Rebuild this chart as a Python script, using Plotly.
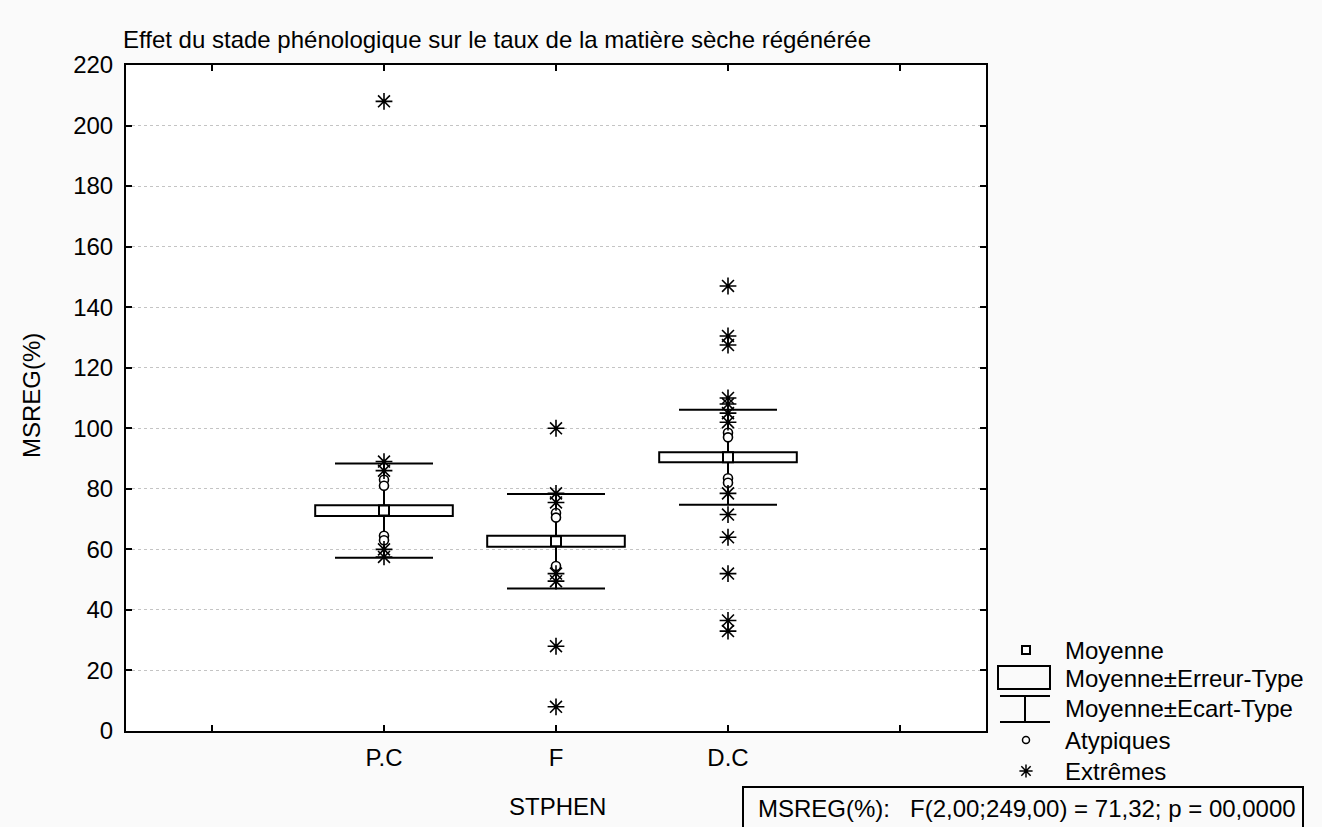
import plotly.graph_objects as go

# Figure geometry (pixels)
W, H = 1322, 827
M_L, M_R, M_T, M_B = 126, 0, 65, 0
PLOT_RIGHT = 986
PLOT_BOTTOM = 731
PAPER_W = W - M_L - M_R
PAPER_H = H - M_T - M_B

FONT = "Liberation Sans, Arial, sans-serif"
FS = 24

# Data: phenological stage groups
categories = ["P.C", "F", "D.C"]
cat_pos = [1, 2, 3]
means = [72.8, 62.7, 90.4]
std_err = [1.8, 1.8, 1.65]
std_dev = [15.6, 15.6, 15.7]

# Atypical values (outliers) per group
outliers_pc = [83.0, 81.0, 64.5, 63.0]
outliers_f = [72.0, 70.5, 54.5]
outliers_dc = [98.5, 97.0, 83.5, 82.0]

# Extreme values per group
extremes_pc = [208.0, 89.0, 86.0, 60.0, 57.5]
extremes_f = [100.0, 78.5, 75.5, 52.0, 49.5, 28.0, 8.0]
extremes_dc = [147.0, 130.5, 127.5, 110.0, 108.0, 105.0, 102.0,
               78.5, 71.5, 64.0, 52.0, 36.5, 33.0]

y_ticks = list(range(0, 221, 20))
x_tickvals = [0, 1, 2, 3, 4]
x_ticktext = ["", "P.C", "F", "D.C", ""]

legend_labels = ["Moyenne", "Moyenne±Erreur-Type", "Moyenne±Ecart-Type",
                 "Atypiques", "Extrêmes"]
stats_text = "MSREG(%):   F(2,00;249,00) = 71,32; p = 00,0000"


def px_x(px):
    return (px - M_L) / PAPER_W


def px_y(py):
    return (H - M_B - py) / PAPER_H


def spread(groups):
    xs, ys = [], []
    for pos, vals in zip(cat_pos, groups):
        xs += [pos] * len(vals)
        ys += vals
    return xs, ys


fig = go.Figure()

# Mean ± standard error boxes
fig.add_trace(go.Bar(
    x=cat_pos,
    base=[m - s for m, s in zip(means, std_err)],
    y=[2 * s for s in std_err],
    width=0.8,
    marker=dict(color="white", line=dict(color="black", width=2)),
    hoverinfo="skip",
))

# Mean ± standard deviation whiskers with the mean marker
fig.add_trace(go.Scatter(
    x=cat_pos, y=means, mode="markers",
    marker=dict(symbol="square", size=10, color="white",
                line=dict(color="black", width=2)),
    error_y=dict(type="data", array=std_dev, symmetric=True,
                 thickness=2, width=49, color="black"),
))

ox, oy = spread([outliers_pc, outliers_f, outliers_dc])
fig.add_trace(go.Scatter(
    x=ox, y=oy, mode="markers",
    marker=dict(symbol="circle", size=9, color="white",
                line=dict(color="black", width=1.6)),
))

ex, ey = spread([extremes_pc, extremes_f, extremes_dc])
fig.add_trace(go.Scatter(
    x=ex, y=ey, mode="markers",
    marker=dict(symbol="asterisk-open", size=14, color="black",
                line=dict(color="black", width=1.6)),
))

# Legend panel drawn on a hidden pixel-unit axis pair
x_dom_end = (PLOT_RIGHT - M_L) / PAPER_W
y_dom_start = (H - M_B - PLOT_BOTTOM) / PAPER_H
x2_start = x_dom_end + 0.001
x2_px0 = M_L + x2_start * PAPER_W

LEG_X = 1026
leg_y = [650, 678, 708, 740, 771]

fig.add_trace(go.Scatter(
    x=[LEG_X], y=[-leg_y[0]], xaxis="x2", yaxis="y2", mode="markers",
    marker=dict(symbol="square", size=8, color="white",
                line=dict(color="black", width=2)),
))
fig.add_trace(go.Scatter(
    x=[LEG_X], y=[-leg_y[3]], xaxis="x2", yaxis="y2", mode="markers",
    marker=dict(symbol="circle", size=7, color="white",
                line=dict(color="black", width=1.5)),
))
fig.add_trace(go.Scatter(
    x=[LEG_X], y=[-leg_y[4]], xaxis="x2", yaxis="y2", mode="markers",
    marker=dict(symbol="asterisk-open", size=11, color="black",
                line=dict(color="black", width=1.5)),
))

shapes = [
    # White plotting area behind the main axes
    dict(type="rect", xref="paper", yref="paper", layer="below",
         x0=0, x1=x_dom_end, y0=y_dom_start, y1=1,
         fillcolor="white", line=dict(width=0)),
    dict(type="rect", xref="x2", yref="y2", x0=998, x1=1050, y0=-689, y1=-666,
         line=dict(color="black", width=2), fillcolor="#fafafa"),
    dict(type="line", xref="x2", yref="y2", x0=1000, x1=1050, y0=-696, y1=-696,
         line=dict(color="black", width=2)),
    dict(type="line", xref="x2", yref="y2", x0=1000, x1=1050, y0=-722, y1=-722,
         line=dict(color="black", width=2)),
    dict(type="line", xref="x2", yref="y2", x0=1025, x1=1025, y0=-696, y1=-722,
         line=dict(color="black", width=2)),
    # Box around the ANOVA summary
    dict(type="rect", xref="paper", yref="paper",
         x0=px_x(743), x1=px_x(1303), y0=px_y(840), y1=px_y(787),
         line=dict(color="black", width=2)),
]

annotations = [
    dict(text="Effet du stade phénologique sur le taux de la matière sèche régénérée",
         xref="paper", yref="paper", x=px_x(121), y=px_y(40),
         xanchor="left", yanchor="middle", showarrow=False,
         font=dict(size=FS, family=FONT, color="black")),
    dict(text="MSREG(%)", xref="paper", yref="paper", x=px_x(31), y=px_y(396),
         textangle=-90, xanchor="center", yanchor="middle", showarrow=False,
         font=dict(size=FS, family=FONT, color="black")),
    dict(text="STPHEN", xref="paper", yref="paper", x=px_x(557), y=px_y(806),
         xanchor="center", yanchor="middle", showarrow=False,
         font=dict(size=FS, family=FONT, color="black")),
    dict(text=stats_text, xref="paper", yref="paper", x=px_x(1027), y=px_y(808),
         xanchor="center", yanchor="middle", showarrow=False,
         font=dict(size=FS, family=FONT, color="black")),
]
for lbl, yy in zip(legend_labels, leg_y):
    annotations.append(dict(
        text=lbl, xref="paper", yref="paper", x=px_x(1063), y=px_y(yy),
        xanchor="left", yanchor="middle", showarrow=False,
        font=dict(size=FS, family=FONT, color="black")))

fig.update_layout(
    width=W, height=H,
    margin=dict(l=M_L, r=M_R, t=M_T, b=M_B, autoexpand=False),
    paper_bgcolor="#fafafa",
    plot_bgcolor="rgba(0,0,0,0)",
    showlegend=False,
    font=dict(family=FONT, size=FS, color="black"),
    xaxis=dict(
        domain=[0, x_dom_end], range=[-0.5, 4.5], anchor="y",
        tickvals=x_tickvals, ticktext=x_ticktext,
        ticks="inside", ticklen=6, tickwidth=2, tickcolor="black",
        showline=True, linecolor="black", linewidth=2, mirror="ticks",
        showgrid=False, zeroline=False, fixedrange=True, automargin=False,
        ticklabelstandoff=4,
        tickfont=dict(size=FS, family=FONT, color="black"),
    ),
    yaxis=dict(
        domain=[y_dom_start, 1], range=[0, 220], anchor="x",
        tickvals=y_ticks,
        ticks="inside", ticklen=6, tickwidth=2, tickcolor="black",
        showline=True, linecolor="black", linewidth=2, mirror="ticks",
        showgrid=True, gridcolor="#c4c4c4", gridwidth=1, griddash="dot",
        zeroline=False, fixedrange=True, ticklabelstandoff=6, automargin=False,
        tickfont=dict(size=FS, family=FONT, color="black"),
    ),
    xaxis2=dict(domain=[x2_start, 1], range=[x2_px0, W], anchor="y2",
                visible=False, fixedrange=True, automargin=False),
    yaxis2=dict(domain=[0, 1], range=[-(H - M_B), -M_T], anchor="x2",
                visible=False, fixedrange=True, automargin=False),
    shapes=shapes,
    annotations=annotations,
)

fig.write_html("out.html")
